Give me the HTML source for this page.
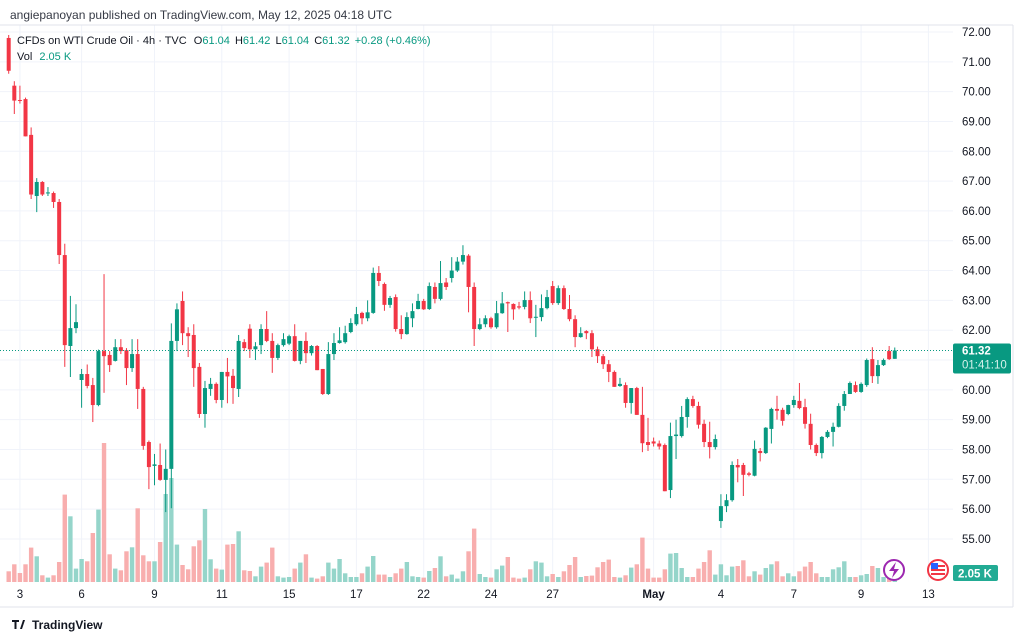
<!DOCTYPE html>
<html><head><meta charset="utf-8">
<style>
html,body{margin:0;padding:0;background:#fff;}
svg{display:block;font-family:"Liberation Sans",Arial,sans-serif;}
</style></head>
<body>
<svg id="chart" width="1024" height="641" viewBox="0 0 1024 641" xmlns="http://www.w3.org/2000/svg">
<rect x="0" y="0" width="1024" height="641" fill="#ffffff"/>
<g id="grid"></g>
<g id="volumes"></g>
<g id="candles"></g>
<line x1="0" y1="25" x2="1013" y2="25" stroke="#e0e3eb" stroke-width="1"/>
<line x1="1013" y1="25" x2="1013" y2="607" stroke="#e0e3eb" stroke-width="1"/>
<line x1="0" y1="607" x2="1013" y2="607" stroke="#e0e3eb" stroke-width="1"/>
<g id="yaxis" font-size="11.5" fill="#131722"></g>
<g id="xaxis" font-size="11.5" fill="#131722"></g>
<line id="lastline" x1="0" x2="953" stroke="#089981" stroke-width="1" stroke-dasharray="1,2"/>
<g>
<rect id="lastbadge" x="953" width="58" height="30" rx="2" fill="#089981"/>
<text id="lastprice" x="962" font-size="11.5" fill="#ffffff" font-weight="bold"></text>
<text id="lastcountdown" x="962" font-size="11.5" fill="#d7f2ec">01:41:10</text>
</g>
<g>
<rect x="953" y="565" width="45" height="16" rx="2" fill="#22ab94"/>
<text x="958" y="577.5" font-size="11.5" fill="#ffffff" font-weight="bold">2.05 K</text>
</g>
<g>
<circle cx="894" cy="570" r="10" fill="#fff" stroke="#9c27b0" stroke-width="2"/>
<path d="M896 562 L889 571 L894 571 L892 578 L899 569 L894 569 Z" fill="#9c27b0"/>
</g>
<g>
<circle cx="938" cy="570" r="10" fill="#fff" stroke="#f23645" stroke-width="2"/>
<rect x="931" y="565" width="14" height="2" fill="#f23645"/>
<rect x="931" y="569" width="14" height="2" fill="#f23645"/>
<rect x="931" y="573" width="14" height="2" fill="#f23645"/>
<rect x="931" y="563" width="7" height="6" fill="#2962ff"/>
</g>
<text x="10" y="19" font-size="12" fill="#363a45">angiepanoyan published on TradingView.com, May 12, 2025 04:18 UTC</text>
<text x="17" y="44" font-size="11" fill="#131722">CFDs on WTI Crude Oil · 4h · TVC
<tspan dx="4">O</tspan><tspan fill="#089981">61.04</tspan>
<tspan dx="2">H</tspan><tspan fill="#089981">61.42</tspan>
<tspan dx="2">L</tspan><tspan fill="#089981">61.04</tspan>
<tspan dx="2">C</tspan><tspan fill="#089981">61.32</tspan>
<tspan dx="2" fill="#089981">+0.28 (+0.46%)</tspan></text>
<text x="17" y="60" font-size="11" fill="#131722">Vol <tspan dx="4" fill="#089981">2.05 K</tspan></text>
<g>
<path d="M12 620 h7 v2 h-2.5 v7 h-2 v-7 h-2.5z M20 629 l3 -9 h2 l-3 9z" fill="#131722"/>
<text x="32" y="629" font-size="12" font-weight="bold" fill="#131722">TradingView</text>
</g>
</svg>
<script>
var opens=[71.8,70.2,69.72,69.75,68.55,66.5,66.97,66.6,66.6,66.3,64.52,61.47,62.07,60.33,60.53,60.16,59.49,61.3,61.17,60.97,61.43,61.33,60.73,61.2,60.03,58.25,57.45,57.48,56.98,57.35,61.64,62.98,61.9,61.84,60.77,59.19,60.03,60.2,59.66,60.6,60.47,60.03,61.6,62.05,61.36,61.5,62.04,61.64,61.07,61.5,61.55,61.8,60.97,61.64,61.23,61.47,60.7,59.86,61.2,61.57,61.6,61.94,62.2,62.58,62.4,62.58,63.92,63.55,62.85,63.11,62.04,61.87,62.4,62.71,62.98,62.71,63.45,63.05,63.6,63.75,64.0,64.3,64.5,63.45,62.04,62.2,62.4,62.1,62.57,62.94,62.88,62.8,62.78,63.01,62.42,62.44,62.74,63.48,62.91,63.41,62.71,62.37,61.77,61.97,61.9,61.36,61.13,60.86,60.6,60.13,60.16,59.56,60.06,59.16,58.25,58.27,58.2,58.15,56.64,58.45,58.45,59.09,59.69,59.46,58.86,58.25,58.08,55.6,56.1,56.3,57.48,57.48,57.2,57.12,57.95,57.88,58.69,59.36,59.33,59.19,59.49,59.63,59.42,58.86,58.15,57.88,58.42,58.59,58.76,59.46,59.86,60.16,59.93,60.16,61.03,60.46,60.83,61.3,61.04];
var highs=[71.9,70.35,70.2,69.8,68.8,67.1,67.0,66.8,66.65,66.4,64.9,63.15,62.87,60.7,60.85,60.4,61.35,63.88,61.3,61.7,61.7,61.4,61.7,61.7,60.1,58.3,57.85,58.2,58.0,62.23,62.9,63.3,62.1,62.2,60.9,60.3,60.4,60.25,60.6,61.07,60.7,61.84,61.7,62.2,61.6,62.2,62.64,61.9,61.55,61.9,61.85,62.2,61.64,61.93,61.5,61.5,60.7,61.6,61.9,62.1,62.15,62.4,62.78,62.62,63.0,64.1,64.15,63.6,63.15,63.2,62.5,62.6,62.9,63.22,63.05,63.6,63.6,64.32,63.75,64.45,64.45,64.85,64.55,63.6,62.4,62.5,62.45,62.98,63.28,62.96,62.9,62.95,63.3,63.3,62.85,63.2,63.35,63.65,63.5,63.5,63.18,62.5,62.1,62.0,62.0,61.45,61.2,61.0,60.65,60.4,60.25,60.06,60.1,60.1,59.06,58.4,58.3,58.2,58.9,59.0,59.46,59.75,59.8,59.6,59.0,58.93,58.5,56.5,56.5,57.6,57.68,57.55,57.25,58.3,58.05,58.75,59.4,59.8,59.4,59.5,59.8,60.23,59.7,59.2,58.2,58.45,58.65,58.9,59.55,59.96,60.28,60.28,60.25,61.05,61.43,61.0,61.05,61.47,61.42];
var lows=[70.6,69.25,69.6,68.5,66.4,65.96,66.5,66.5,66.1,64.22,60.77,60.43,61.9,59.4,60.05,58.92,59.45,59.9,60.6,60.95,61.2,60.16,60.6,59.36,57.99,56.67,56.8,56.95,55.9,56.03,61.3,61.5,61.1,60.1,59.06,58.73,59.8,59.55,59.4,59.55,59.53,59.76,61.3,61.07,61.0,61.2,61.6,60.57,61.0,61.45,61.5,60.95,60.86,60.9,61.15,60.66,59.83,59.83,61.0,61.55,61.55,61.9,62.15,62.2,62.3,62.55,63.48,62.65,62.75,61.95,61.7,61.85,62.1,62.7,62.68,62.68,62.9,63.0,63.35,63.6,63.95,64.2,62.6,61.47,62.0,62.1,62.05,62.05,62.55,61.94,62.35,62.7,62.7,62.24,61.77,62.3,62.7,62.85,62.85,62.68,62.3,61.43,61.75,61.7,61.1,60.9,60.7,60.26,60.1,60.1,59.4,59.2,59.16,57.91,57.95,58.1,58.0,56.6,56.37,57.68,58.4,58.73,59.4,58.7,58.08,57.7,58.0,55.37,55.9,56.25,56.9,56.44,57.1,57.1,57.6,57.85,58.2,59.0,58.8,59.15,59.4,59.35,58.7,58.0,57.78,57.7,58.38,58.1,58.74,59.3,59.86,59.9,59.9,60.1,60.23,60.2,60.8,61.0,61.04];
var closes=[70.7,69.7,69.7,68.5,66.55,66.97,66.55,66.62,66.3,64.52,61.5,62.07,62.27,60.53,60.13,59.49,61.3,61.13,60.83,61.43,61.3,60.73,61.2,60.03,58.12,57.41,57.5,56.98,57.35,61.64,62.7,61.9,61.8,60.73,59.19,60.06,60.2,59.66,60.6,60.45,60.06,61.64,61.4,61.36,61.46,62.04,61.64,61.07,61.5,61.7,61.8,60.97,61.64,61.23,61.47,60.66,59.86,61.2,61.57,61.66,61.9,62.24,62.54,62.4,62.6,63.92,63.65,62.85,63.08,62.04,61.87,62.44,62.64,62.98,62.7,63.48,63.05,63.58,63.45,64.0,64.3,64.52,63.45,62.04,62.2,62.4,62.1,62.57,62.9,62.9,62.7,62.76,63.01,62.4,62.45,62.74,63.11,62.91,63.41,62.71,62.37,61.77,61.9,61.9,61.36,61.13,60.86,60.6,60.1,60.2,59.56,60.06,59.16,58.21,58.15,58.2,58.1,56.6,58.45,58.5,59.09,59.69,59.46,58.83,58.25,58.08,58.35,56.1,56.3,57.48,57.4,57.15,57.15,58.02,57.88,58.73,59.36,59.3,58.96,59.49,59.66,59.39,58.86,58.15,57.88,58.42,58.59,58.76,59.46,59.86,60.23,59.93,60.2,61.0,60.46,60.83,61.0,61.03,61.32];
var volumes=[10.7,17.7,9,17.7,34.4,25.7,6.7,4.4,6.7,20,87.4,65.7,13.4,23,20.7,49,72.4,139,27.7,13.4,11.7,30.7,34.7,73.7,26.7,20.7,20.7,40,88,104,37.4,17,12.7,35.7,41.7,73,22.7,13.4,12.4,37.4,38,50.7,11.7,11,5.7,15.4,19.4,34.4,5.7,4.4,5,13.4,19.4,27.7,4.4,3.4,5.7,19.4,13.4,23,8.7,5,5,8.7,15.4,26,7.4,7.4,5,8.7,13.4,20,5.7,5,4.4,11,14,25.7,5.7,7.4,3.4,10.7,30.7,53.4,8,5,4.4,12.7,16.4,25,4.4,3.4,4.4,12.7,20.7,19.4,5.7,8,5,10.7,17,25,5,6,6.4,14.7,20,22.4,5,4.4,6.7,14.4,17.7,44.4,13.4,4.4,4.4,12.7,28.4,29,14,5,5,13.4,20,31.7,7.4,17.7,6.7,15.4,16,21.7,5.7,10.7,7.4,14,17.7,20.7,5.7,8.7,5.7,10.7,15.4,20,8.7,5,5,12.7,14.7,20.7,5,5,6.7,8,16,14,5,3.4,2.4];
var priceTicks=[72,71,70,69,68,67,66,65,64,63,62,61,60,59,58,57,56,55];
var dateLabels=["3","6","9","11","15","17","22","24","27","May","4","7","9","13"];
var dateSlots=[2,13,26,38,50,62,74,86,97,115,127,140,152,164];

var NS="http://www.w3.org/2000/svg";
var PLOT_RIGHT=953;
function xOf(i){return 8.7+i*5.608;}
function yOf(p){return 32+(72-p)*29.82;}
function vY(v){return 582-v;}
function mk(tag,attrs,parent){var e=document.createElementNS(NS,tag);for(var k in attrs)e.setAttribute(k,attrs[k]);parent.appendChild(e);return e;}

var grid=document.getElementById('grid');
var yaxis=document.getElementById('yaxis');
priceTicks.forEach(function(p){
  var y=yOf(p);
  var gl=mk('line',{x1:0,x2:PLOT_RIGHT,y1:y,y2:y,stroke:'#f0f3fa','stroke-width':1},grid);
  
  
  var t=mk('text',{x:962,y:y+4},yaxis);
  t.textContent=p.toFixed(2);
  
  
});
var xaxis=document.getElementById('xaxis');
dateLabels.forEach(function(lbl,k){
  var x=xOf(dateSlots[k]);
  var gl=mk('line',{x1:x,x2:x,y1:25,y2:582,stroke:'#f0f3fa','stroke-width':1},grid);
  
  
  var t=mk('text',{x:x,y:598,'text-anchor':'middle'},xaxis);
  if(lbl==='May'){t.setAttribute('font-weight','bold');}
  t.textContent=lbl;
  
  
});

var vg=document.getElementById('volumes');
var cg=document.getElementById('candles');
for(var i=0;i<closes.length;i++){
  var up=closes[i]>=opens[i];
  var x=xOf(i);
  var vb=mk('rect',{x:x-2.2,y:vY(volumes[i]),width:4.4,height:volumes[i],fill:up?'#95d5ca':'#f8aeae'},vg);
  
  
  var col=up?'#089981':'#f23645';
  var w=mk('line',{x1:x,x2:x,y1:yOf(highs[i]),y2:yOf(lows[i]),stroke:col,'stroke-width':1},cg);
  
  
  var bodyTop=yOf(Math.max(opens[i],closes[i])),bodyBot=yOf(Math.min(opens[i],closes[i]));
  var b=mk('rect',{x:x-2,y:bodyTop,width:4,height:Math.max(1,bodyBot-bodyTop),fill:col},cg);
  
  
}
var last=closes[closes.length-1];
var ly=yOf(last);
var ll=document.getElementById('lastline');ll.setAttribute('y1',ly);ll.setAttribute('y2',ly);
document.getElementById('lastbadge').setAttribute('y',ly-7);
var lp=document.getElementById('lastprice');lp.setAttribute('y',ly+4);lp.textContent=last.toFixed(2);
document.getElementById('lastcountdown').setAttribute('y',ly+18);
</script>
</body></html>
